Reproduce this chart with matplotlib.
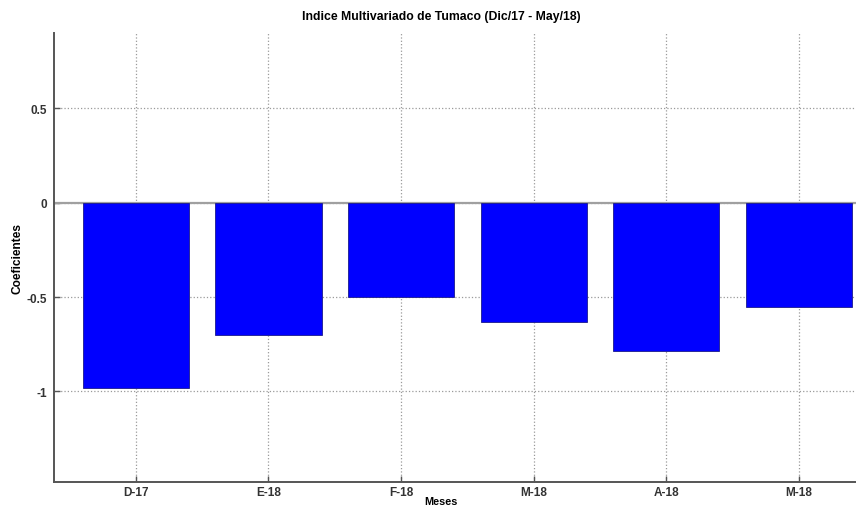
import matplotlib
matplotlib.use("Agg")
import matplotlib.pyplot as plt

# Datos del gráfico
meses = ["D-17", "E-18", "F-18", "M-18", "A-18", "M-18"]
coeficientes = [-0.98, -0.70, -0.50, -0.633, -0.787, -0.553]
y_ticks = [-1, -0.5, 0, 0.5]
y_labels = ["-1", "-0.5", "0", "0.5"]

plt.rcParams["font.family"] = ["Liberation Sans", "DejaVu Sans"]

fig = plt.figure(figsize=(8.56, 5.10), dpi=100)
ax = fig.add_axes([54 / 856, 1 - 483 / 510, 1 - 54 / 856, (483 - 34) / 510])

pos = list(range(1, len(meses) + 1))
ax.bar(pos, coeficientes, width=0.8, color="#0000ff", edgecolor="#1a1a8c",
       linewidth=0.6, zorder=3)
ax.axhline(0, color="#a0a0a0", linewidth=1.6, zorder=2)

ax.set_xlim(0.383, 6.43)
ax.set_ylim(-1.48, 0.90)
ax.set_xticks(pos)
ax.set_xticklabels(meses, fontsize=8.5, fontweight="bold", color="#333333")
ax.set_yticks(y_ticks)
ax.set_yticklabels(y_labels, fontsize=8.5, fontweight="bold", color="#333333")

ax.grid(True, linestyle=":", color="#9a9a9a", linewidth=0.9, zorder=0)
ax.tick_params(direction="in", length=4, width=1, color="#555555", pad=5)
ax.tick_params(axis="x", pad=3)

for s in ["top", "right"]:
    ax.spines[s].set_visible(False)
for s in ["left", "bottom"]:
    ax.spines[s].set_linewidth(1.4)
    ax.spines[s].set_color("#555555")

# el eje original está recortado a la derecha, así que el título queda algo a la izquierda
ax.set_title("Indice Multivariado de Tumaco (Dic/17 - May/18)", fontsize=8.8,
             fontweight="bold", pad=10, x=0.483)
ax.set_xlabel("Meses", fontsize=7.8, fontweight="bold")
ax.xaxis.set_label_coords(0.483, -0.032)
ax.set_ylabel("Coeficientes", fontsize=8.6, fontweight="bold", labelpad=2)

fig.savefig("out.png", dpi=100)
